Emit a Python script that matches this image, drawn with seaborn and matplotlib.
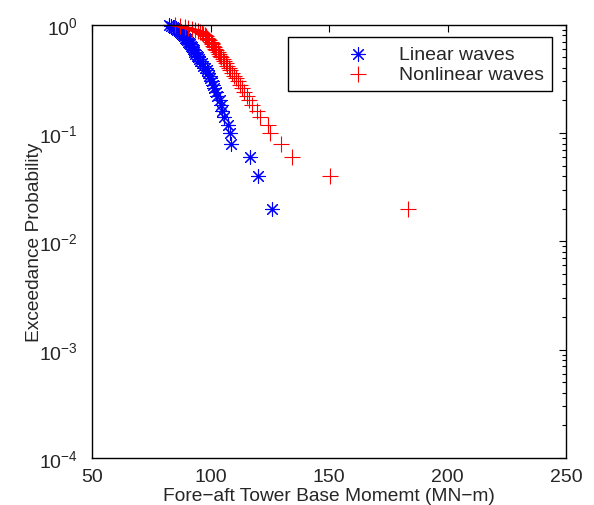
import numpy as np
import pandas as pd
import matplotlib
matplotlib.use("Agg")
import matplotlib.pyplot as plt
import seaborn as sns

# moments (sorted, largest moment = smallest exceedance prob)
linear_moment = [82.5, 83.2, 84.0, 84.6, 85.3, 86.0, 86.6, 87.1, 87.5, 88.0,
                 88.4, 88.8, 89.3, 89.8, 90.2, 90.6, 91.0, 91.3, 91.7, 92.0,
                 92.4, 92.8, 93.2, 93.6, 94.1, 94.6, 95.1, 95.6, 96.2, 96.8,
                 97.5, 98.3, 98.8, 99.3, 99.9, 100.4, 100.9, 101.5, 102.2, 102.9,
                 103.8, 104.5, 105.0, 105.5, 107.4, 108.2, 108.6, 116.7, 120.2, 125.8]
nonlinear_moment = [85.0, 87.0, 89.0, 90.5, 92.0, 93.3, 94.5, 95.4, 96.2, 96.9,
                    97.5, 98.0, 98.5, 99.0, 99.5, 100.0, 100.4, 100.8, 101.2, 101.6,
                    102.0, 102.5, 103.0, 103.5, 104.0, 104.6, 105.2, 105.8, 106.4, 107.0,
                    107.6, 108.3, 109.0, 109.8, 110.6, 111.4, 112.4, 113.4, 114.3, 115.3,
                    116.4, 117.4, 119.5, 120.9, 124.2, 125.1, 129.6, 134.3, 150.4, 183.3]
# exceedance probability for 50 samples: 1.00, 0.98, ..., 0.02
exceed_prob = [k / 50 for k in range(50, 0, -1)]

xticks = [50, 100, 150, 200, 250]

sns.set_style("white")
plt.rcParams['font.family'] = ['Liberation Sans', 'DejaVu Sans']
plt.rcParams['mathtext.fontset'] = 'custom'
plt.rcParams['mathtext.rm'] = 'Liberation Sans'
plt.rcParams['mathtext.it'] = 'Liberation Sans'

fig, ax = plt.subplots(figsize=(5.94, 5.06), dpi=100)
fig.subplots_adjust(left=0.155, right=0.953, top=0.949, bottom=0.093)

df_lin = pd.DataFrame({'moment': linear_moment, 'prob': exceed_prob})
df_non = pd.DataFrame({'moment': nonlinear_moment, 'prob': exceed_prob})

# matlab-style: markers not clipped at the axes box
sns.scatterplot(data=df_lin, x='moment', y='prob', ax=ax, marker=(8, 2, 0),
                color='blue', s=95, linewidth=0.8, label='Linear waves', clip_on=False)
sns.scatterplot(data=df_non, x='moment', y='prob', ax=ax, marker='+',
                color='red', s=120, linewidth=0.8, label='Nonlinear waves', clip_on=False)

ax.set_yscale('log')
ax.set_ylim(1e-4, 1e0)
ax.set_xlim(50, 250)
ax.set_xticks(xticks)
ax.set_xticklabels([str(t) for t in xticks])
ax.minorticks_on()
ax.xaxis.set_minor_locator(matplotlib.ticker.NullLocator())

ax.tick_params(which='both', direction='in', top=True, right=True, labelsize=14,
               color='black', width=0.8)
ax.tick_params(which='major', length=5)
ax.tick_params(which='minor', length=2.8)
ax.tick_params(axis='x', pad=7)
ax.tick_params(axis='y', pad=10)
for sp in ax.spines.values():
    sp.set_color('black')
    sp.set_linewidth(1.0)

ax.set_xlabel('Fore\u2212aft Tower Base Momemt (MN\u2212m)', fontsize=13.8)
ax.xaxis.set_label_coords(0.5, -0.068)
ax.set_ylabel('Exceedance Probability', fontsize=13.8)
ax.yaxis.set_label_coords(-0.103, 0.5)

leg = ax.legend(loc='upper right', bbox_to_anchor=(0.970, 0.972), borderaxespad=0,
                fontsize=14, fancybox=False, framealpha=1, edgecolor='black',
                handlelength=6.27, handletextpad=-1.02, labelspacing=0.15,
                borderpad=0.42)
leg.get_frame().set_linewidth(1.0)

fig.savefig('out.png', dpi=100, facecolor='white')
